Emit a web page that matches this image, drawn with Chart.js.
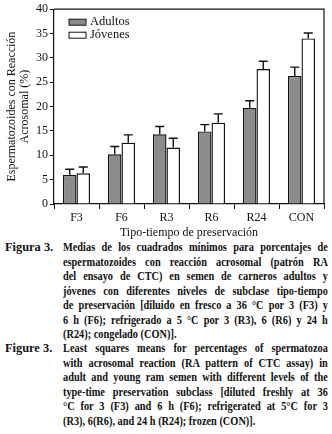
<!DOCTYPE html>
<html><head><meta charset="utf-8">
<script src="https://cdn.jsdelivr.net/npm/chart.js@4/dist/chart.umd.min.js"></script>
<style>
html,body{margin:0;padding:0;background:#fff;width:332px;height:434px;overflow:hidden;}
#wrap{position:absolute;left:0;top:0;width:332px;height:240px;}
.cap{position:absolute;left:0;width:332px;font-family:"Liberation Serif","Times New Roman",serif;font-weight:bold;font-size:11.8px;line-height:14.5px;color:#111;}
.cap .lab{position:absolute;left:5px;top:0;white-space:nowrap;font-size:12.4px;}
.cap .txt{position:absolute;left:63px;width:302px;transform:scaleX(0.877);transform-origin:0 0;}
.cap .txt div{text-align:justify;text-align-last:justify;height:14.5px;overflow:hidden;}
.cap .txt div.last{text-align-last:left;}
</style></head>
<body>
<div id="wrap"><canvas id="c" width="332" height="240"></canvas></div>
<div class="cap" style="top:240px"><span class="lab">Figura 3.</span><div class="txt">
<div>Medias de los cuadrados mínimos para porcentajes de</div>
<div>espermatozoides con reacción acrosomal (patrón RA</div>
<div>del ensayo de CTC) en semen de carneros adultos y</div>
<div>jóvenes con diferentes niveles de subclase tipo-tiempo</div>
<div>de preservación [diluido en fresco a 36 °C por 3 (F3) y</div>
<div>6 h (F6); refrigerado a 5 °C por 3 (R3), 6 (R6) y 24 h</div>
<div class="last">(R24); congelado (CON)].</div>
</div></div>
<div class="cap" style="top:341px"><span class="lab">Figure 3.</span><div class="txt">
<div>Least squares means for percentages of spermatozoa</div>
<div>with acrosomal reaction (RA pattern of CTC assay) in</div>
<div>adult and young ram semen with different levels of the</div>
<div>type-time preservation subclass [diluted freshly at 36</div>
<div>°C for 3 (F3) and 6 h (F6); refrigerated at 5°C for 3</div>
<div class="last">(R3), 6(R6), and 24 h (R24); frozen (CON)].</div>
</div></div>
<script>
const categories = ["F3","F6","R3","R6","R24","CON"];
const adultos = [6.0, 10.2, 14.3, 14.9, 19.7, 26.3];
const jovenes = [6.3, 12.6, 11.6, 16.7, 27.7, 34.0];
const adultosErr = [1.15, 1.6, 1.6, 1.4, 1.5, 1.8];
const jovenesErr = [1.3, 1.6, 1.9, 1.8, 1.6, 1.1];
const yTicks = [0,5,10,15,20,25,30,35,40];
const seriesNames = ["Adultos","Jóvenes"];

const serif = "'Liberation Serif','Times New Roman',serif";

const errPlugin = {
  id:'err',
  afterDatasetsDraw(chart){
    const ctx = chart.ctx, y = chart.scales.y;
    const errs = [adultosErr, jovenesErr];
    ctx.save();
    ctx.strokeStyle = '#111'; ctx.lineWidth = 1.4;
    chart.data.datasets.forEach((ds,i)=>{
      const meta = chart.getDatasetMeta(i);
      meta.data.forEach((bar,j)=>{
        const top = y.getPixelForValue(ds.data[j]);
        const up = y.getPixelForValue(ds.data[j]+errs[i][j]);
        ctx.beginPath();
        ctx.moveTo(bar.x, top); ctx.lineTo(bar.x, up);
        ctx.moveTo(bar.x-4.5, up); ctx.lineTo(bar.x+4.5, up);
        ctx.stroke();
      });
    });
    const a = chart.chartArea;
    ctx.lineWidth = 1.2;
    ctx.beginPath();
    ctx.moveTo(a.left, a.top); ctx.lineTo(a.right, a.top); ctx.lineTo(a.right, a.bottom);
    ctx.stroke();
    ctx.font = "12.5px " + serif;
    ctx.textBaseline = 'middle';
    chart.data.datasets.forEach((ds,i)=>{
      const bx = a.left+15, by = a.top+10+i*13;
      ctx.fillStyle = ds.backgroundColor;
      ctx.fillRect(bx, by, 17, 6);
      ctx.lineWidth = 1;
      ctx.strokeRect(bx, by, 17, 6);
      ctx.fillStyle = '#111';
      ctx.fillText(ds.label, bx+21, by+3);
    });
    ctx.restore();
  }
};

new Chart(document.getElementById('c'), {
  type:'bar',
  data:{
    labels:categories,
    datasets:[
      {label:seriesNames[0], data:adultos, backgroundColor:'#8c8c8c', borderColor:'#111', borderWidth:1.4, borderSkipped:'bottom'},
      {label:seriesNames[1], data:jovenes, backgroundColor:'#ffffff', borderColor:'#111', borderWidth:1.4, borderSkipped:'bottom'}
    ]
  },
  options:{
    responsive:false, animation:false,
    layout:{padding:{left:0,right:8,top:7,bottom:0}},
    plugins:{legend:{display:false}, tooltip:{enabled:false}},
    datasets:{bar:{barPercentage:1.0, categoryPercentage:0.6}},
    scales:{
      x:{
        grid:{offset:true, drawOnChartArea:false, color:'#111', tickLength:5},
        border:{color:'#111', width:1.2},
        ticks:{color:'#111', font:{family:serif, size:12}, padding:2},
        title:{display:true, text:'Tipo-tiempo de preservación', color:'#111', font:{family:serif, size:12}, padding:{top:0,bottom:0}},
        afterFit(s){ s.height = 36; }
      },
      y:{
        min:0, max:40,
        afterBuildTicks(s){ s.ticks = yTicks.map(v=>({value:v})); },
        grid:{drawOnChartArea:false, color:'#111', tickLength:4},
        border:{color:'#111', width:1.2},
        ticks:{color:'#111', font:{family:serif, size:12}, padding:2},
        title:{display:true, text:['Espermatozoides con Reacción','Acrosomal (%)'], color:'#111', font:{family:serif, size:12, lineHeight:1.1}, padding:{top:5,bottom:2}},
        afterFit(s){ s.width = 54; }
      }
    }
  },
  plugins:[errPlugin]
});
</script>
</body></html>
